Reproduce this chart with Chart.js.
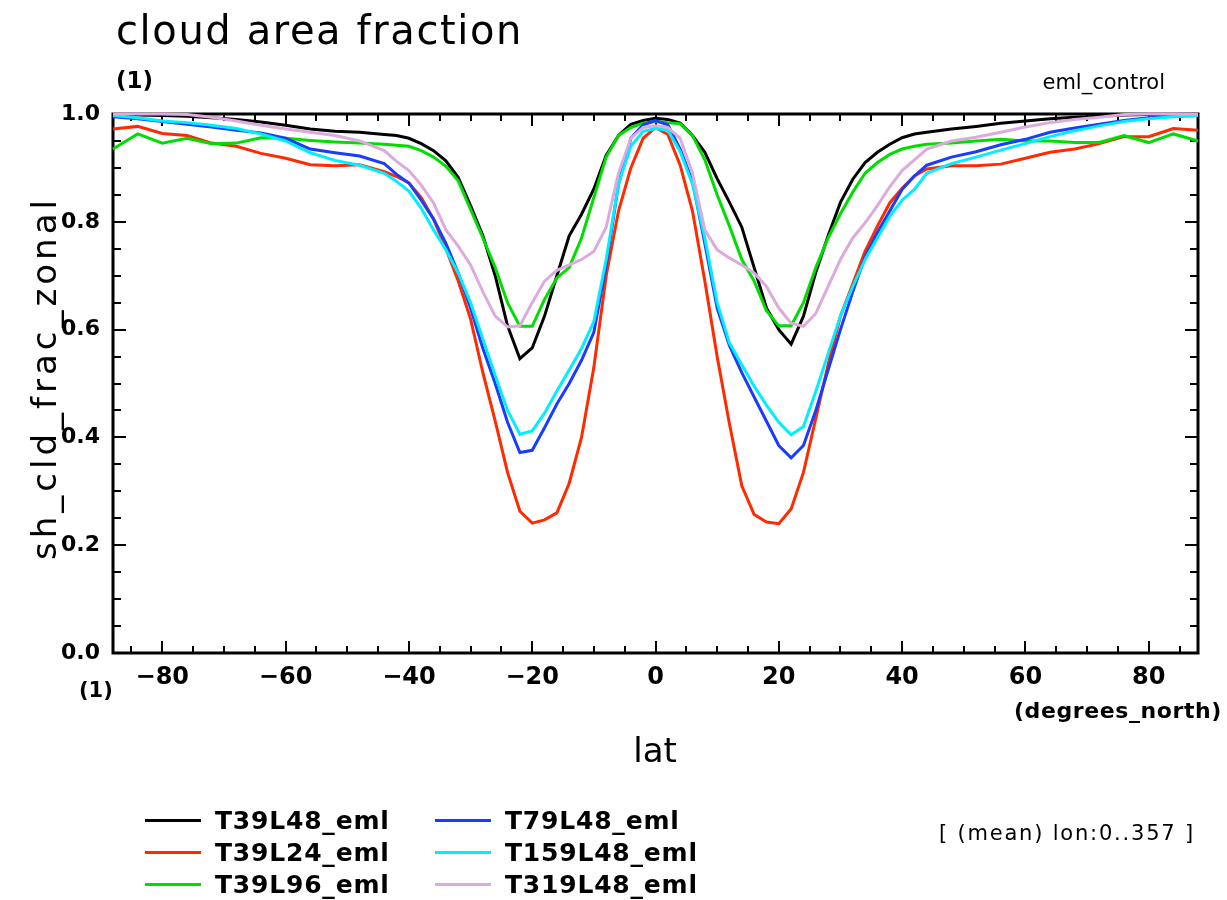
<!DOCTYPE html>
<html>
<head>
<meta charset="utf-8">
<script src="https://cdn.jsdelivr.net/npm/chart.js@4.4.1/dist/chart.umd.min.js"></script>
<style>
  body { margin: 0; background: #fff; font-family: "DejaVu Sans", sans-serif; }
  #wrap { position: relative; width: 1227px; height: 900px; overflow: hidden; }
  #chart { position: absolute; left: 0; top: 0; }
  .t { position: absolute; white-space: nowrap; line-height: 1; color: #000; transform: translateY(-50%); }
  .b { font-weight: bold; }
  .sw { position: absolute; height: 3px; width: 56px; }
</style>
</head>
<body>
<div id="wrap">
  <canvas id="chart" width="1227" height="900"></canvas>
  <div class="t" style="left:116px;top:30px;font-size:40px;letter-spacing:1.6px;">cloud area fraction</div>
  <div class="t b" style="left:116px;top:80px;font-size:23px;">(1)</div>
  <div class="t" style="right:62px;top:82px;font-size:21px;">eml_control</div>
  <div class="t" style="left:44px;top:380px;font-size:34px;letter-spacing:4px;padding-left:4px;transform:translate(-50%,-50%) rotate(-90deg);">sh_cld_frac_zonal</div>
  <div class="t b" style="left:79px;top:690px;font-size:21px;">(1)</div>
  <div class="t b" style="right:5px;top:711px;font-size:22px;letter-spacing:0.6px;">(degrees_north)</div>
  <div class="t" style="left:655px;top:750px;font-size:34px;transform:translate(-50%,-50%);">lat</div>
  <div id="legend"></div>
  <div class="t" style="right:32px;top:833px;font-size:21px;letter-spacing:1.8px;">[ (mean) lon:0..357 ]</div>
</div>
<script>
// latitude grid (degrees_north)
const lats = [-88,-84,-80,-76,-72,-68,-64,-60,-56,-52,-48,-44,
  -42,-40,-38,-36,-34,-32,-30,-28,-26,-24,-22,-20,-18,-16,-14,-12,-10,-8,-6,-4,-2,
  0,
  2,4,6,8,10,12,14,16,18,20,22,24,26,28,30,32,34,36,38,40,42,
  44,48,52,56,60,64,68,72,76,80,84,88];

const t39l48 = [0.999,0.998,0.997,0.996,0.993,0.990,0.985,0.979,0.972,0.968,0.966,0.962,
  0.960,0.955,0.945,0.932,0.913,0.882,0.830,0.774,0.700,0.607,0.546,0.566,0.625,0.700,0.774,0.814,0.861,0.923,0.960,0.981,0.988,
  0.992,
  0.990,0.983,0.960,0.929,0.880,0.836,0.790,0.715,0.640,0.600,0.573,0.625,0.706,0.774,0.836,0.879,0.910,0.929,0.944,0.956,0.963,
  0.966,0.972,0.977,0.983,0.987,0.991,0.994,0.996,0.998,0.999,0.999,1.000];

const t39l24 = [0.972,0.977,0.964,0.960,0.946,0.940,0.927,0.918,0.906,0.904,0.906,0.893,
  0.884,0.872,0.845,0.805,0.750,0.690,0.620,0.520,0.430,0.335,0.263,0.241,0.247,0.260,0.315,0.400,0.530,0.700,0.820,0.900,0.955,
  0.975,
  0.962,0.905,0.820,0.690,0.550,0.425,0.310,0.257,0.243,0.240,0.267,0.335,0.435,0.535,0.625,0.685,0.745,0.792,0.835,0.862,0.885,
  0.898,0.904,0.904,0.907,0.918,0.929,0.935,0.945,0.958,0.958,0.973,0.970];

const t39l96 = [0.935,0.963,0.946,0.955,0.945,0.946,0.956,0.955,0.951,0.948,0.946,0.944,
  0.942,0.940,0.932,0.920,0.903,0.876,0.823,0.770,0.715,0.650,0.606,0.606,0.656,0.696,0.715,0.770,0.845,0.920,0.960,0.975,0.983,
  0.986,
  0.984,0.982,0.960,0.915,0.850,0.792,0.730,0.690,0.635,0.607,0.607,0.650,0.715,0.770,0.815,0.855,0.890,0.910,0.925,0.935,0.940,
  0.944,0.946,0.950,0.953,0.950,0.950,0.947,0.947,0.960,0.947,0.963,0.950];

const t79l48 = [0.995,0.991,0.986,0.981,0.976,0.970,0.965,0.955,0.935,0.928,0.922,0.908,
  0.888,0.872,0.840,0.805,0.760,0.705,0.640,0.565,0.500,0.428,0.372,0.376,0.418,0.462,0.500,0.543,0.595,0.720,0.870,0.955,0.980,
  0.988,
  0.980,0.935,0.875,0.760,0.640,0.570,0.520,0.475,0.430,0.385,0.362,0.385,0.450,0.525,0.600,0.670,0.735,0.780,0.820,0.860,0.885,
  0.905,0.920,0.930,0.943,0.953,0.966,0.974,0.981,0.988,0.993,0.996,0.997];

const t159l48 = [0.997,0.993,0.987,0.984,0.979,0.973,0.963,0.950,0.928,0.914,0.905,0.890,
  0.875,0.857,0.825,0.785,0.748,0.705,0.650,0.582,0.515,0.450,0.406,0.412,0.445,0.486,0.525,0.565,0.615,0.730,0.870,0.940,0.968,
  0.973,
  0.970,0.930,0.870,0.770,0.650,0.575,0.535,0.495,0.460,0.428,0.405,0.420,0.485,0.555,0.625,0.680,0.730,0.770,0.810,0.840,0.860,
  0.890,0.908,0.920,0.933,0.945,0.958,0.969,0.978,0.986,0.991,0.995,0.997];

const t319l48 = [1.000,1.000,1.000,0.999,0.994,0.987,0.979,0.972,0.966,0.960,0.950,0.932,
  0.912,0.895,0.868,0.835,0.785,0.755,0.720,0.670,0.625,0.605,0.607,0.650,0.690,0.710,0.720,0.730,0.745,0.790,0.890,0.955,0.975,
  0.978,
  0.975,0.955,0.890,0.785,0.748,0.733,0.720,0.705,0.680,0.640,0.612,0.606,0.630,0.680,0.730,0.770,0.798,0.830,0.865,0.895,0.915,
  0.935,0.950,0.957,0.966,0.976,0.984,0.990,0.994,0.999,1.000,1.000,1.000];

const seriesNames = ['T39L48_eml','T39L24_eml','T39L96_eml','T79L48_eml','T159L48_eml','T319L48_eml'];
const seriesColors = ['#000000','#ff2a00','#00dd00','#1a3cff','#00eeff','#dcaadc'];
const seriesValues = [t39l48, t39l24, t39l96, t79l48, t159l48, t319l48];

const xTicks = [-80,-60,-40,-20,0,20,40,60,80];
const yTicks = [0,0.2,0.4,0.6,0.8,1.0];

// inward ticks and frame, drawn like the original plot
const frameTicks = {
  id: 'frameTicks',
  beforeDatasetsDraw(chart) {
    const {ctx, chartArea: a, scales: {x, y}} = chart;
    ctx.save();
    ctx.strokeStyle = '#000';
    ctx.lineWidth = 2;
    ctx.beginPath();
    for (let v = -85; v <= 85; v += 5) {
      const px = Math.round(x.getPixelForValue(v));
      const len = v % 20 === 0 ? 12 : 7;
      ctx.moveTo(px, a.bottom); ctx.lineTo(px, a.bottom - len);
      ctx.moveTo(px, a.top); ctx.lineTo(px, a.top + len);
    }
    for (let i = 1; i < 20; i++) {
      const py = Math.round(y.getPixelForValue(i * 0.05));
      const len = i % 4 === 0 ? 13 : 8;
      ctx.moveTo(a.left, py); ctx.lineTo(a.left + len, py);
      ctx.moveTo(a.right, py); ctx.lineTo(a.right - len, py);
    }
    ctx.stroke();
    ctx.lineWidth = 3;
    ctx.strokeRect(a.left, a.top, a.right - a.left, a.bottom - a.top);
    ctx.restore();
  }
};

const datasets = seriesValues.map((vals, i) => ({
  label: seriesNames[i],
  data: lats.map((la, k) => ({x: la, y: vals[k]})),
  borderColor: seriesColors[i],
  backgroundColor: seriesColors[i],
  borderWidth: 3,
  pointRadius: 0,
  tension: 0,
  clip: 4,
  order: 6 - i
}));

new Chart(document.getElementById('chart'), {
  type: 'line',
  data: {datasets},
  options: {
    responsive: false,
    animation: false,
    layout: {padding: {left: 0, right: 29, top: 114, bottom: 0}},
    plugins: {legend: {display: false}, tooltip: {enabled: false}},
    scales: {
      x: {
        type: 'linear', min: -88, max: 88,
        grid: {display: false, drawTicks: false},
        border: {display: false},
        afterBuildTicks: s => { s.ticks = xTicks.map(v => ({value: v})); },
        afterFit: s => { s.height = 247; },
        ticks: {
          padding: 10, color: '#000',
          font: {family: 'DejaVu Sans', size: 24, weight: 'bold'},
          callback: v => (v < 0 ? '\u2212' + Math.abs(v) : String(v))
        }
      },
      y: {
        min: 0, max: 1,
        grid: {display: false, drawTicks: false},
        border: {display: false},
        afterBuildTicks: s => { s.ticks = yTicks.map(v => ({value: v})); },
        afterFit: s => { s.width = 113; },
        ticks: {
          padding: 13, color: '#000',
          font: {family: 'DejaVu Sans', size: 22, weight: 'bold'},
          callback: v => Number(v).toFixed(1)
        }
      }
    }
  },
  plugins: [frameTicks]
});

// legend in two columns
const legend = document.getElementById('legend');
const legendX = [145, 435];
const legendY = [820, 852, 884];
seriesNames.forEach((name, i) => {
  const col = Math.floor(i / 3), row = i % 3;
  const sw = document.createElement('div');
  sw.className = 'sw';
  sw.style.left = legendX[col] + 'px';
  sw.style.top = (legendY[row] - 1) + 'px';
  sw.style.background = seriesColors[i];
  legend.appendChild(sw);
  const tx = document.createElement('div');
  tx.className = 't b';
  tx.style.left = (legendX[col] + 70) + 'px';
  tx.style.top = legendY[row] + 'px';
  tx.style.fontSize = '25px';
  tx.style.letterSpacing = '0.8px';
  tx.textContent = name;
  legend.appendChild(tx);
});
</script>
</body>
</html>
